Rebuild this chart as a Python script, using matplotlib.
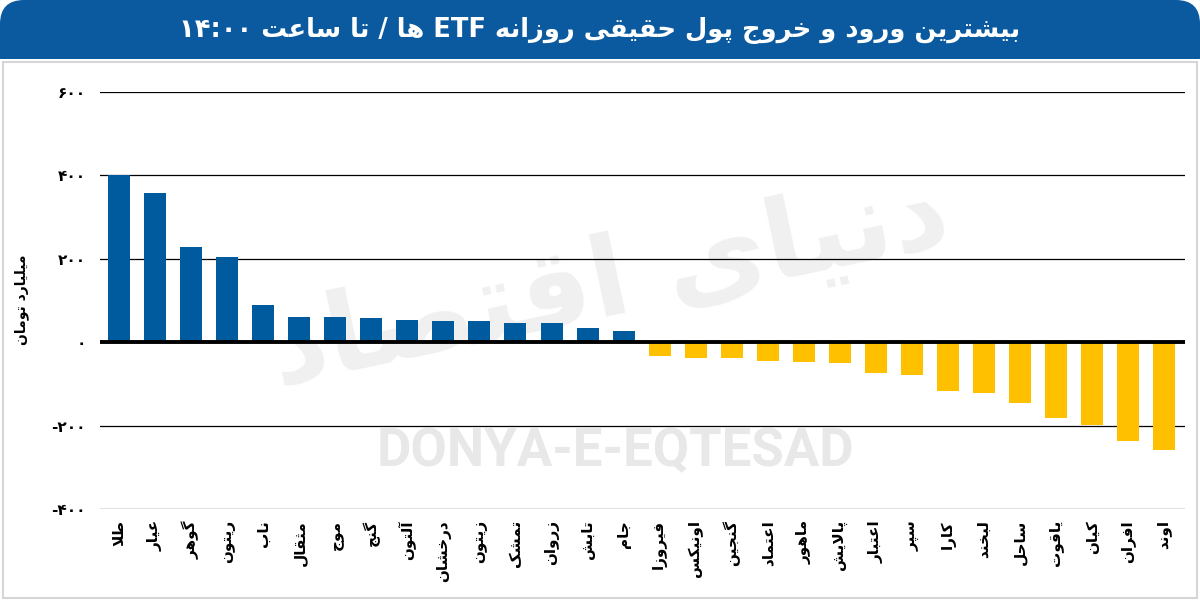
import matplotlib.pyplot as plt
from matplotlib.patches import FancyBboxPatch, Rectangle

plt.rcParams['font.family'] = ['DejaVu Sans']

# data (billion toman)
names = ['طلا', 'عیار', 'گوهر', 'ریتون', 'ناب', 'مثقال', 'موج', 'گنج', 'آلتون', 'درخشان',
         'زیتون', 'تمشک', 'زروان', 'تابش', 'جام', 'فیروزا', 'اونیکس', 'گنجین', 'اعتماد', 'ماهور',
         'پالایش', 'اعتبار', 'سپر', 'کارا', 'لبخند', 'ساحل', 'یاقوت', 'کیان', 'افران', 'اوند']
values = [400, 358, 229, 205, 89, 60, 60, 57, 54, 52,
          52, 47, 45, 35, 26, -34, -39, -39, -45, -47,
          -51, -73, -78, -118, -121, -145, -182, -198, -237, -258]
yticks = [-400, -200, 0, 200, 400, 600]
ytick_labels = ['-۴۰۰', '-۲۰۰', '۰', '۲۰۰', '۴۰۰', '۶۰۰']
title = 'بیشترین ورود و خروج پول حقیقی روزانه ETF ها / تا ساعت ۱۴:۰۰'
ylabel = 'میلیارد تومان'

BLUE = '#005a9e'
YELLOW = '#ffc000'
HEADER = '#0b5a9f'

# presentation forms: isolated, final, initial, medial
FORMS = {
    'ا': ('\uFE8D', '\uFE8E', None, None),
    'آ': ('\uFE81', '\uFE82', None, None),
    'ب': ('\uFE8F', '\uFE90', '\uFE91', '\uFE92'),
    'پ': ('\uFB56', '\uFB57', '\uFB58', '\uFB59'),
    'ت': ('\uFE95', '\uFE96', '\uFE97', '\uFE98'),
    'ث': ('\uFE99', '\uFE9A', '\uFE9B', '\uFE9C'),
    'ج': ('\uFE9D', '\uFE9E', '\uFE9F', '\uFEA0'),
    'چ': ('\uFB7A', '\uFB7B', '\uFB7C', '\uFB7D'),
    'ح': ('\uFEA1', '\uFEA2', '\uFEA3', '\uFEA4'),
    'خ': ('\uFEA5', '\uFEA6', '\uFEA7', '\uFEA8'),
    'د': ('\uFEA9', '\uFEAA', None, None),
    'ذ': ('\uFEAB', '\uFEAC', None, None),
    'ر': ('\uFEAD', '\uFEAE', None, None),
    'ز': ('\uFEAF', '\uFEB0', None, None),
    'ژ': ('\uFB8A', '\uFB8B', None, None),
    'س': ('\uFEB1', '\uFEB2', '\uFEB3', '\uFEB4'),
    'ش': ('\uFEB5', '\uFEB6', '\uFEB7', '\uFEB8'),
    'ص': ('\uFEB9', '\uFEBA', '\uFEBB', '\uFEBC'),
    'ض': ('\uFEBD', '\uFEBE', '\uFEBF', '\uFEC0'),
    'ط': ('\uFEC1', '\uFEC2', '\uFEC3', '\uFEC4'),
    'ظ': ('\uFEC5', '\uFEC6', '\uFEC7', '\uFEC8'),
    'ع': ('\uFEC9', '\uFECA', '\uFECB', '\uFECC'),
    'غ': ('\uFECD', '\uFECE', '\uFECF', '\uFED0'),
    'ف': ('\uFED1', '\uFED2', '\uFED3', '\uFED4'),
    'ق': ('\uFED5', '\uFED6', '\uFED7', '\uFED8'),
    'ک': ('\uFB8E', '\uFB8F', '\uFB90', '\uFB91'),
    'گ': ('\uFB92', '\uFB93', '\uFB94', '\uFB95'),
    'ل': ('\uFEDD', '\uFEDE', '\uFEDF', '\uFEE0'),
    'م': ('\uFEE1', '\uFEE2', '\uFEE3', '\uFEE4'),
    'ن': ('\uFEE5', '\uFEE6', '\uFEE7', '\uFEE8'),
    'ه': ('\uFEE9', '\uFEEA', '\uFEEB', '\uFEEC'),
    'و': ('\uFEED', '\uFEEE', None, None),
    'ی': ('\uFBFC', '\uFBFD', '\uFBFE', '\uFBFF'),
}
LAM_ALEF = {'ا': ('\uFEFB', '\uFEFC'), 'آ': ('\uFEF5', '\uFEF6')}


def joins_next(c):
    return c in FORMS and FORMS[c][2] is not None


def shape(word):
    res = []
    i = 0
    n = len(word)
    while i < n:
        c = word[i]
        prev = i > 0 and joins_next(word[i - 1])
        if c == 'ل' and i + 1 < n and word[i + 1] in LAM_ALEF:
            lig = LAM_ALEF[word[i + 1]]
            res.append(lig[1] if prev else lig[0])
            i += 2
            continue
        if c not in FORMS:
            res.append(c)
            i += 1
            continue
        nxt = i + 1 < n and word[i + 1] in FORMS and joins_next(c)
        iso, fin, ini, med = FORMS[c]
        if prev and nxt:
            g = med
        elif prev:
            g = fin
        elif nxt:
            g = ini
        else:
            g = iso
        res.append(g)
        i += 1
    return ''.join(reversed(res))


def rtl(text):
    out = []
    for t in reversed(text.split(' ')):
        if any(ch in FORMS for ch in t):
            out.append(shape(t))
        else:
            out.append(t)
    return ' '.join(out)


fig = plt.figure(figsize=(12, 6.03), dpi=100)

# background layer in pixel coordinates
bg = fig.add_axes([0, 0, 1, 1], zorder=0)
bg.set_xlim(0, 1200)
bg.set_ylim(603, 0)
bg.axis('off')
bg.add_patch(FancyBboxPatch((0, 0), 1200, 80, boxstyle='round,pad=0,rounding_size=24',
                            fc=HEADER, ec='none'))
bg.add_patch(Rectangle((0, 30), 1200, 29, fc=HEADER, ec='none'))
bg.add_patch(Rectangle((0, 59), 1200, 60, fc='white', ec='none'))
bg.add_patch(Rectangle((3, 62), 1194, 536, fc='none', ec='#d6d6d6', lw=1.5))
bg.text(600, 31, rtl(title), color='white', fontsize=18.5, fontweight='bold',
        ha='center', va='center')
bg.text(615, 452, 'DONYA-E-EQTESAD', color='#e8e8e8', fontsize=38, fontweight='bold',
        family='Roboto', ha='center', va='center')
bg.text(610, 285, rtl('دنیای اقتصاد'), color='#f0f0f0', fontsize=80, fontweight='bold',
        ha='center', va='center', rotation=12)

ax = fig.add_axes([100 / 1200, 1 - 509 / 603, 1085 / 1200, 417 / 603], zorder=1)
ax.patch.set_alpha(0)

x = list(range(len(names)))
colors = [BLUE if v >= 0 else YELLOW for v in values]
ax.bar(x, values, width=0.61, color=colors, zorder=3)

ax.set_ylim(-400, 600)
ax.set_xlim(-0.53, len(names) - 1 + 0.58)
ax.set_yticks(yticks)
ax.set_yticklabels(ytick_labels, fontsize=11, fontweight='bold')
for y in yticks:
    if y == 0:
        ax.axhline(y, color='black', lw=2.8, zorder=4)
    else:
        ax.axhline(y, color='black', lw=0.9, zorder=1)

ax.set_xticks(x)
ax.set_xticklabels([shape(n) for n in names], rotation=90, fontsize=11,
                   fontweight='bold', ha='center', va='top')
ax.tick_params(axis='y', length=0, pad=10)
ax.tick_params(axis='x', length=0, pad=8)
for s in ax.spines.values():
    s.set_visible(False)

fig.text(22 / 1200, 1 - 300 / 603, rtl(ylabel), rotation=90, fontsize=10,
         fontweight='bold', ha='center', va='center')

fig.savefig('out.png', dpi=100)
